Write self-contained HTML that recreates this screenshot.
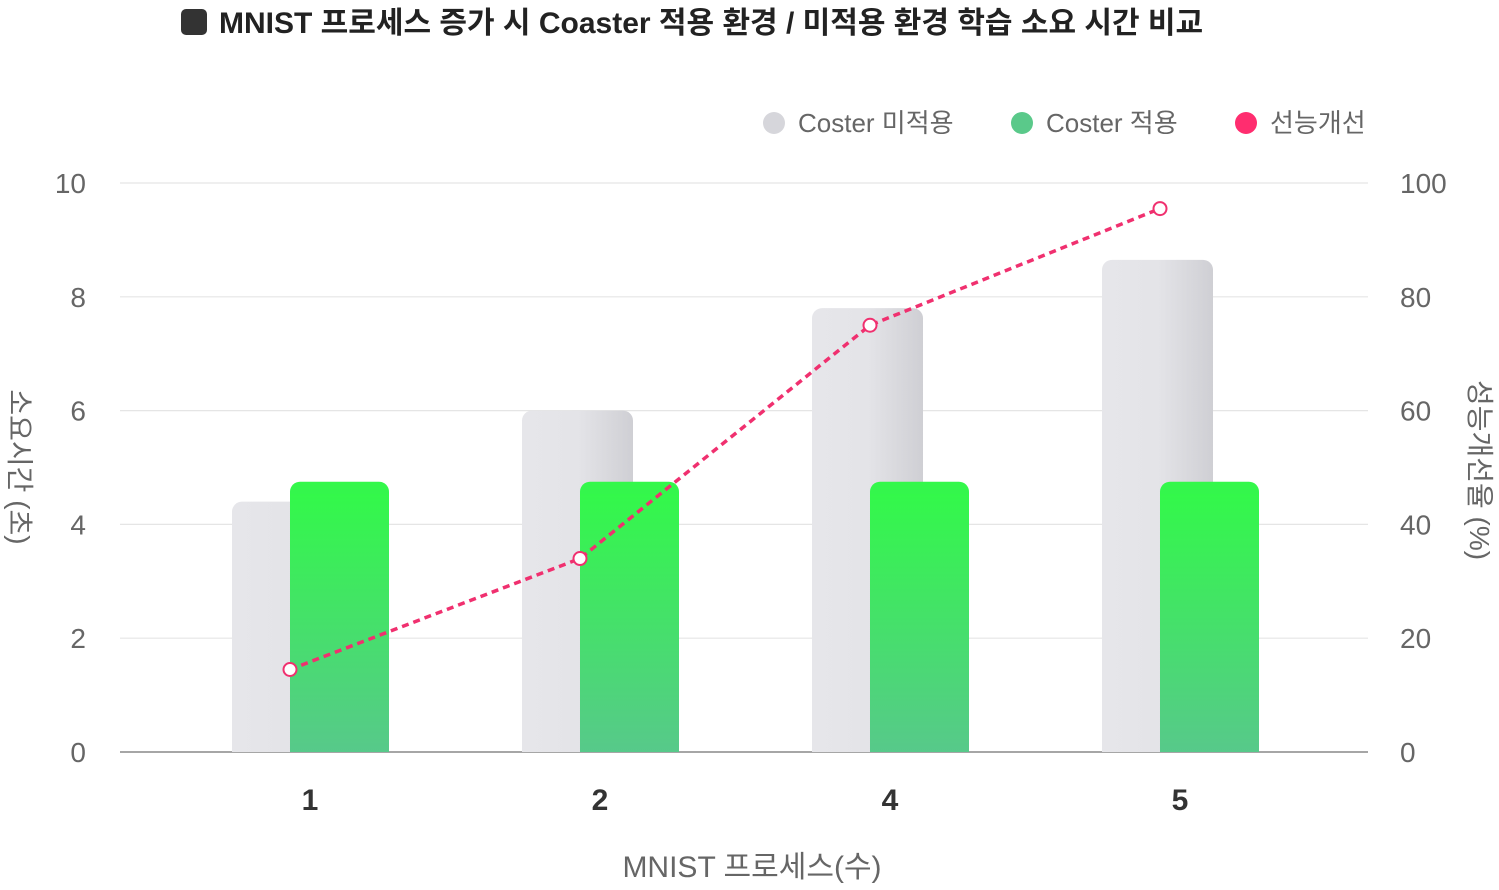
<!DOCTYPE html>
<html><head><meta charset="utf-8"><style>
body{margin:0;background:#fff;font-family:"Liberation Sans","Noto Sans CJK KR",sans-serif;}
svg text{font-family:"Liberation Sans","Noto Sans CJK KR",sans-serif;}
</style></head><body>
<svg id="chart" width="1499" height="885" xmlns="http://www.w3.org/2000/svg">
<defs>
<linearGradient id="gGreen" x1="0" y1="0" x2="0" y2="1"><stop offset="0" stop-color="#33f84a"/><stop offset="1" stop-color="#57c98a"/></linearGradient>
<linearGradient id="gGray" x1="0" y1="0" x2="1" y2="0"><stop offset="0" stop-color="#e6e6ea"/><stop offset="0.5" stop-color="#e4e4e8"/><stop offset="1" stop-color="#cfcfd4"/></linearGradient>
</defs>
<rect x="181" y="9" width="26" height="26" rx="5" fill="#333"/>
<text x="219" y="33" font-size="30" font-weight="bold" fill="#222">MNIST 프로세스 증가 시 Coaster 적용 환경 / 미적용 환경 학습 소요 시간 비교</text>
<g>
<g><circle cx="774" cy="123" r="11" fill="#d6d6db"/><text x="798" y="132" font-size="26" fill="#666">Coster 미적용</text></g>
<g><circle cx="1022" cy="123" r="11" fill="#5ac98a"/><text x="1046" y="132" font-size="26" fill="#666">Coster 적용</text></g>
<g><circle cx="1246" cy="123" r="11" fill="#ff2d6f"/><text x="1270" y="132" font-size="26" fill="#666">선능개선</text></g>
</g>
<g id="grid"></g><g id="bars"></g><g id="line"></g><g id="labels"></g>
<text transform="translate(10,467) rotate(90)" text-anchor="middle" font-size="28" fill="#666">소요시간 (초)</text>
<text transform="translate(1470,470) rotate(90)" text-anchor="middle" font-size="28" fill="#666">성능개선율 (%)</text>
<text x="752" y="877" text-anchor="middle" font-size="30" fill="#666">MNIST 프로세스(수)</text>
</svg>
<script>
const categories = ["1","2","4","5"];
const costerOff = [4.4, 6.0, 7.8, 8.65];
const costerOn = [4.75, 4.75, 4.75, 4.75];
const improvement = [14.5, 34, 75, 95.5];
const leftTicks = [0,2,4,6,8,10];
const rightTicks = [0,20,40,60,80,100];
const NS="http://www.w3.org/2000/svg";
const x0=120,x1=1368,yTop=183,yBot=752;
const yL=v=>yBot-(v/10)*(yBot-yTop);
const yR=v=>yBot-(v/100)*(yBot-yTop);
const xC=i=>310+i*290;
function mk(tag,attrs,parent){const e=document.createElementNS(NS,tag);for(const k in attrs)e.setAttribute(k,attrs[k]);document.getElementById(parent).appendChild(e);return e;}
leftTicks.forEach((t,i)=>{
 const l=mk('line',{x1:x0,x2:x1,y1:yL(t),y2:yL(t),stroke:i===0?'#888':'#e5e5e5','stroke-width':i===0?1.5:1.2},'grid');
 
 
 const a=mk('text',{x:86,y:yL(t)+10,'text-anchor':'end','font-size':28,fill:'#666'},'labels');a.textContent=t;
 
 
});
rightTicks.forEach(t=>{
 const a=mk('text',{x:1400,y:yR(t)+10,'font-size':28,fill:'#666'},'labels');a.textContent=t;
 
 
});
categories.forEach((c,i)=>{
 const cx=xC(i);
 const g=mk('rect',{x:cx-78,y:yL(costerOff[i]),width:111,height:yBot-yL(costerOff[i]),rx:10,fill:'url(#gGray)'},'bars');
 
 
 mk('rect',{x:cx-78,y:yL(costerOff[i])+12,width:111,height:yBot-yL(costerOff[i])-12,fill:'url(#gGray)'},'bars');
 const b=mk('rect',{x:cx-20,y:yL(costerOn[i]),width:99,height:yBot-yL(costerOn[i]),rx:10,fill:'url(#gGreen)'},'bars');
 
 
 mk('rect',{x:cx-20,y:yL(costerOn[i])+12,width:99,height:yBot-yL(costerOn[i])-12,fill:'url(#gGreen)'},'bars');
 const t=mk('text',{x:cx,y:810,'text-anchor':'middle','font-size':30,'font-weight':'bold',fill:'#333'},'labels');t.textContent=c;
 
 
});
const pts=improvement.map((v,i)=>[xC(i)-20,yR(v)]);
const pl=mk('polyline',{points:pts.map(p=>p.join(',')).join(' '),fill:'none',stroke:'#f0306f','stroke-width':3.5,'stroke-dasharray':'7,5'},'line');


pts.forEach((p,i)=>{
 const d=mk('circle',{cx:p[0],cy:p[1],r:6.5,fill:'#fff',stroke:'#f0306f','stroke-width':2},'line');
 
 
});
</script>
</body></html>
